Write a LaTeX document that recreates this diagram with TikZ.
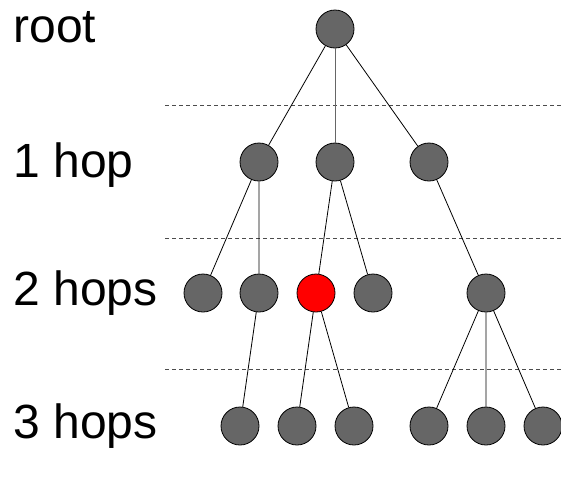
\documentclass[tikz,border=0pt]{standalone}
\usepackage{fontspec}
\setmainfont{Liberation Sans}

\begin{document}
\begin{tikzpicture}[x=1pt,y=-1pt,line width=0.8pt,
    peer/.style={circle,draw,fill=black!60,minimum size=38pt,inner sep=0pt},
    hop/.style={anchor=base west,inner sep=0pt,font=\fontsize{48}{58}\selectfont}]
      \useasboundingbox (0,0) rectangle (561,501);
      \foreach \y in {105,238,369}
        \draw[black!70,dash pattern=on 4pt off 3pt] (165,\y) -- (561,\y);
      \node[hop] (l0) at (13,42) {root};
      \node[hop] (l1) at (13,177) {1 hop};
      \node[hop] (l2) at (13,305) {2 hops};
      \node[hop] (l3) at (13,438) {3 hops};
      \node[peer] (r) at (335,29) {};
      \node[peer] (a1) at (259,162) {};
      \node[peer] (a2) at (335,162) {};
      \node[peer] (a3) at (429,162) {};
      \node[peer] (b1) at (203,293) {};
      \node[peer] (b2) at (259,293) {};
      \node[peer,fill=red] (b3) at (316,293) {};
      \node[peer] (b4) at (373,293) {};
      \node[peer] (b5) at (486,293) {};
      \node[peer] (c1) at (240,426) {};
      \node[peer] (c2) at (297,426) {};
      \node[peer] (c3) at (354,426) {};
      \node[peer] (c4) at (429,426) {};
      \node[peer] (c5) at (486,426) {};
      \node[peer] (c6) at (543,426) {};
      \draw (r) -- (a1) (r) -- (a3);
      \draw[black!60] (r) -- (a2);
      \draw (a1) -- (b1) (a1) -- (b2) (a2) -- (b3) (a2) -- (b4) (a3) -- (b5);
      \draw (b2) -- (c1) (b3) -- (c2) (b3) -- (c3);
      \draw (b5) -- (c4) (b5) -- (c5) (b5) -- (c6);
    \end{tikzpicture}
\end{document}
